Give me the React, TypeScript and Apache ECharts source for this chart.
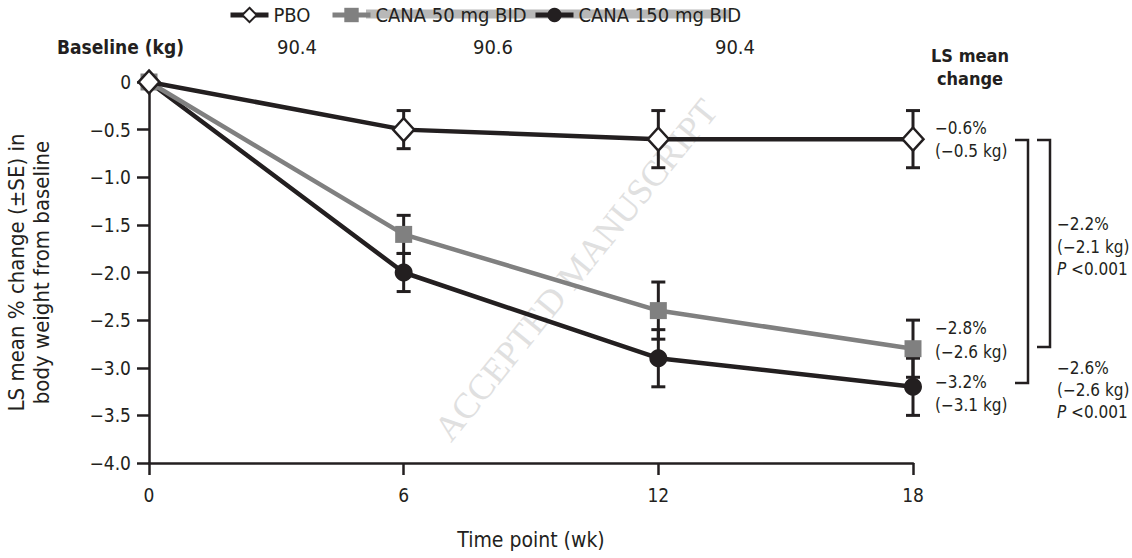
import React, { useEffect, useRef } from "react";
import * as echarts from "echarts";

const weeks = [0, 6, 12, 18];
const seriesNames = ["PBO", "CANA 50 mg BID", "CANA 150 mg BID"];
const pboMean = [0, -0.5, -0.6, -0.6];
const pboSE = [0, 0.2, 0.3, 0.3];
const cana50Mean = [0, -1.6, -2.4, -2.8];
const cana50SE = [0, 0.2, 0.3, 0.3];
const cana150Mean = [0, -2.0, -2.9, -3.2];
const cana150SE = [0, 0.2, 0.3, 0.3];
const baselineLabel = "Baseline (kg)";
const baselineValues = ["90.4", "90.6", "90.4"];
const endLabelsPct = ["−0.6%", "−2.8%", "−3.2%"];
const endLabelsKg = ["(−0.5 kg)", "(−2.6 kg)", "(−3.1 kg)"];
const compare50 = ["−2.2%", "(−2.1 kg)", "<0.001"];
const compare150 = ["−2.6%", "(−2.6 kg)", "<0.001"];

const FONT = '"Liberation Sans Narrow", "DejaVu Sans Condensed", "Roboto Condensed", Arial, sans-serif';
const INK = "#231f20";
const GRAY = "#808080";

function fmtY(v: number) {
  if (v === 0) return "0";
  return v.toFixed(1).replace("-", "−");
}

function errData(mean: number[], se: number[]) {
  return weeks
    .map((w, i) => [w, mean[i] - se[i], mean[i] + se[i]])
    .filter((d, i) => se[i] > 0);
}

function errSeries(name: string, mean: number[], se: number[]) {
  return {
    type: "custom",
    name: name + " SE",
    data: errData(mean, se),
    z: 1,
    silent: true,
    renderItem: (params: any, api: any) => {
      const x = api.value(0);
      const lo = api.coord([x, api.value(1)]);
      const hi = api.coord([x, api.value(2)]);
      const cap = 7;
      const st = { stroke: INK, lineWidth: 3 };
      return {
        type: "group",
        children: [
          { type: "line", shape: { x1: lo[0], y1: lo[1], x2: hi[0], y2: hi[1] }, style: st },
          { type: "line", shape: { x1: lo[0] - cap, y1: lo[1], x2: lo[0] + cap, y2: lo[1] }, style: st },
          { type: "line", shape: { x1: hi[0] - cap, y1: hi[1], x2: hi[0] + cap, y2: hi[1] }, style: st },
        ],
      };
    },
  };
}

function txt(text: string, x: number, y: number, opts: any = {}) {
  return {
    type: "text",
    x,
    y,
    silent: true,
    style: {
      text,
      fill: INK,
      font: `${opts.weight || "normal"} ${opts.size || 17}px ${FONT}`,
      textAlign: opts.align || "left",
      textVerticalAlign: "middle",
      ...(opts.rich ? { rich: opts.rich } : {}),
    },
  };
}

function legendAt(name: string, left: number) {
  return {
    left,
    top: 5,
    padding: 0,
    itemWidth: 38,
    itemHeight: 18,
    itemGap: 5,
    lineStyle: { width: 5 },
    textStyle: { fontSize: 20, color: INK, fontFamily: FONT },
    data: [name],
  };
}

export default function App() {
  const ref = useRef<HTMLDivElement>(null);
  useEffect(() => {
    if (!ref.current) return;
    const chart = echarts.init(ref.current, null, { renderer: "svg" });
    const pRich = {
      i: { fontStyle: "italic", fontSize: 17, fontFamily: FONT, color: INK },
      n: { fontSize: 17, fontFamily: FONT, color: INK },
    };
    const graphics: any[] = [
      {
        type: "text",
        x: 576,
        y: 270,
        rotation: (51 * Math.PI) / 180,
        silent: true,
        z: -10,
        style: {
          text: "ACCEPTED MANUSCRIPT",
          fill: "#e0e0e0",
          font: `normal 36px "Liberation Serif", "DejaVu Serif", serif`,
          textAlign: "center",
          textVerticalAlign: "middle",
        },
      },
      {
        type: "rect",
        shape: { x: 366, y: 9.5, width: 364, height: 9 },
        style: { fill: "#b8b8b8" },
        z: -5,
        silent: true,
      },
      txt(baselineLabel, 57, 47, { weight: "bold", size: 19 }),
      txt(baselineValues[0], 297, 47, { align: "center", size: 20 }),
      txt(baselineValues[1], 493, 47, { align: "center", size: 20 }),
      txt(baselineValues[2], 735, 47, { align: "center", size: 20 }),
      txt("LS mean", 970, 55, { weight: "bold", align: "center", size: 18 }),
      txt("change", 970, 78, { weight: "bold", align: "center", size: 18 }),
      txt(endLabelsPct[0], 935, 128),
      txt(endLabelsKg[0], 935, 151),
      txt(endLabelsPct[1], 935, 328),
      txt(endLabelsKg[1], 935, 352),
      txt(endLabelsPct[2], 935, 382),
      txt(endLabelsKg[2], 935, 405),
      txt(compare50[0], 1057, 224),
      txt(compare50[1], 1057, 247),
      txt(`{i|P} {n|${compare50[2]}}`, 1057, 269, { rich: pRich }),
      txt(compare150[0], 1057, 368),
      txt(compare150[1], 1057, 390),
      txt(`{i|P} {n|${compare150[2]}}`, 1057, 412, { rich: pRich }),
      {
        type: "polyline",
        silent: true,
        shape: { points: [[1015, 140], [1028, 140], [1028, 383], [1015, 383]] },
        style: { stroke: INK, lineWidth: 2.5, fill: null },
      },
      {
        type: "polyline",
        silent: true,
        shape: { points: [[1037, 140], [1050, 140], [1050, 347], [1037, 347]] },
        style: { stroke: INK, lineWidth: 2.5, fill: null },
      },
    ];

    const lineCommon = { type: "line", showSymbol: true };
    chart.setOption({
      animation: false,
      textStyle: { fontFamily: FONT, color: INK },
      grid: { left: 149, right: 219, top: 82, bottom: 95, containLabel: false, outerBoundsMode: "none" },
      legend: [
        legendAt(seriesNames[0], 228),
        legendAt(seriesNames[1], 330),
        legendAt(seriesNames[2], 533),
      ],
      xAxis: {
        type: "value",
        min: 0,
        max: 18,
        interval: 6,
        name: "Time point (wk)",
        nameLocation: "middle",
        nameGap: 66,
        nameTextStyle: { fontSize: 21, color: INK, fontFamily: FONT },
        axisLine: { onZero: false, lineStyle: { color: INK, width: 2.5 } },
        axisTick: { length: 12, lineStyle: { color: INK, width: 2.5 } },
        axisLabel: { fontSize: 19, color: INK, margin: 22, fontFamily: FONT },
        splitLine: { show: false },
      },
      yAxis: {
        type: "value",
        min: -4,
        max: 0,
        interval: 0.5,
        name: "LS mean % change (±SE) in\nbody weight from baseline",
        nameLocation: "middle",
        nameGap: 95,
        nameRotate: 90,
        nameTextStyle: { fontSize: 22, color: INK, fontFamily: FONT, lineHeight: 25 },
        axisLine: { show: true, onZero: false, lineStyle: { color: INK, width: 2.5 } },
        axisTick: { show: true, length: 12, lineStyle: { color: INK, width: 2.5 } },
        axisLabel: { fontSize: 19, color: INK, margin: 18, fontFamily: FONT, formatter: fmtY },
        splitLine: { show: false },
      },
      series: [
        errSeries(seriesNames[0], pboMean, pboSE),
        errSeries(seriesNames[1], cana50Mean, cana50SE),
        errSeries(seriesNames[2], cana150Mean, cana150SE),
        {
          ...lineCommon,
          name: seriesNames[2],
          data: weeks.map((w, i) => [w, cana150Mean[i]]),
          symbol: "circle",
          symbolSize: 18,
          lineStyle: { color: INK, width: 4.5 },
          itemStyle: { color: INK },
          z: 3,
        },
        {
          ...lineCommon,
          name: seriesNames[1],
          data: weeks.map((w, i) => [w, cana50Mean[i]]),
          symbol: "rect",
          symbolSize: 17,
          lineStyle: { color: GRAY, width: 4.5 },
          itemStyle: { color: GRAY },
          z: 4,
        },
        {
          ...lineCommon,
          name: seriesNames[0],
          data: weeks.map((w, i) => [w, pboMean[i]]),
          symbol: "diamond",
          symbolSize: [21, 23],
          lineStyle: { color: INK, width: 4.5 },
          itemStyle: { color: "#ffffff", borderColor: INK, borderWidth: 2.5 },
          z: 5,
        },
      ],
      graphic: graphics,
    });
    return () => chart.dispose();
  }, []);
  return <div ref={ref} style={{ width: 1132, height: 558, position: "absolute", left: 0, top: 0, background: "#fff" }} />;
}
